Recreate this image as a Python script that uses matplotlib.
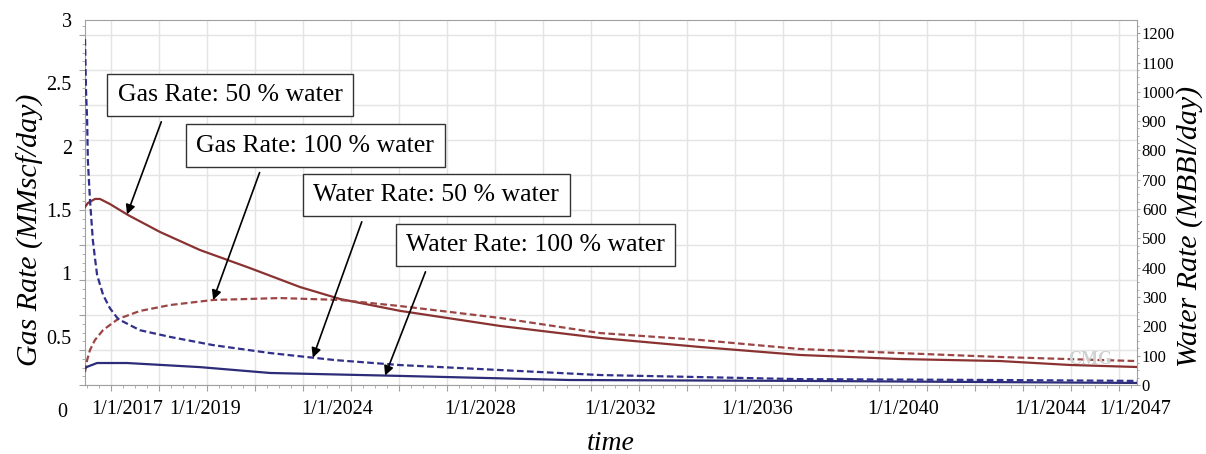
import numpy as np
import matplotlib.pyplot as plt
from matplotlib.ticker import MultipleLocator

plt.rcParams['font.family'] = ['Liberation Serif', 'DejaVu Serif']

# time axis: years from start of production
t_gas50 = [0, 0.08, 0.28, 0.42, 0.70, 1.21, 2.11, 3.23, 4.63, 6.04, 7.16, 8.85,
           11.66, 14.47, 17.28, 20.08, 22.89, 25.70, 27.67, 29.55]
gas50 = [1.524, 1.556, 1.588, 1.588, 1.548, 1.461, 1.327, 1.185, 1.043, 0.893, 0.799,
         0.705, 0.586, 0.491, 0.420, 0.357, 0.325, 0.309, 0.278, 0.262]

t_gas100 = [0, 0.06, 0.14, 0.28, 0.51, 0.93, 1.54, 2.39, 3.60, 5.48, 7.16, 8.85,
            11.66, 14.47, 17.28, 20.08, 22.89, 25.70, 28.51, 29.55]
gas100 = [0.223, 0.317, 0.396, 0.475, 0.554, 0.641, 0.704, 0.751, 0.791, 0.806, 0.791,
          0.743, 0.649, 0.530, 0.475, 0.404, 0.372, 0.341, 0.317, 0.309]

t_wat50 = [0, 0.08, 0.34, 1.18, 3.23, 5.20, 8.85, 13.62, 20.08, 29.55]
wat50 = [58, 63, 75, 75, 61, 41, 31, 17, 14, 7]

t_wat100 = [0, 0.03, 0.06, 0.08, 0.14, 0.22, 0.28, 0.34, 0.51, 0.70, 0.93, 1.54, 2.39,
            3.60, 5.20, 7.02, 8.85, 11.66, 14.47, 20.08, 25.70, 29.55]
wat100 = [1180, 1000, 903, 767, 631, 494, 433, 375, 307, 262, 225, 187, 164,
          136, 109, 85, 68, 51, 34, 20, 17, 14]

date_ticks = [1.18, 3.37, 7.08, 11.10, 15.03, 18.88, 22.98, 27.11, 29.49]
date_labels = ['1/1/2017', '1/1/2019', '1/1/2024', '1/1/2028', '1/1/2032',
               '1/1/2036', '1/1/2040', '1/1/2044', '1/1/2047']
gas_ticks = [0.5, 1, 1.5, 2, 2.5, 3]

red = '#8a3232'
red_d = '#9b4545'
blue = '#2c2c78'
blue_d = '#30308a'
frame = '#a0a0a0'

W, H = 1206, 454
fig = plt.figure(figsize=(W / 100, H / 100), dpi=100)
rect = [85 / W, 1 - 385 / H, 1052 / W, 365 / H]

# background grid + frame ticks
gax = fig.add_axes(rect)
gax.set_xlim(-26 / 48, 1026 / 48)
gax.set_ylim(0, 365 / 35)
gax.xaxis.set_major_locator(MultipleLocator(1))
gax.xaxis.set_minor_locator(MultipleLocator(0.25))
gax.yaxis.set_major_locator(MultipleLocator(1))
gax.yaxis.set_minor_locator(MultipleLocator(0.25))
gax.grid(True, which='major', color='#e4e4e4', lw=1)
gax.tick_params(which='both', direction='out', color=frame, labelbottom=False,
                labelleft=False)
gax.tick_params(which='major', length=4, width=0.8)
gax.tick_params(which='minor', length=2, width=0.6)
for s in gax.spines.values():
    s.set_color(frame)

ax = fig.add_axes(rect)
ax.patch.set_visible(False)
for s in ax.spines.values():
    s.set_visible(False)
ax.plot(t_gas50, gas50, color=red, lw=1.6)
ax.plot(t_gas100, gas100, color=red_d, lw=1.6, ls=(0, (3, 1.5)))
ax.set_xlim(0, 29.55)
ax.set_ylim(0.12, 3.0)
ax.set_yticks(gas_ticks)
ax.set_yticklabels(['0.5', '1', '1.5', '2', '2.5', '3'])
ax.set_xticks(date_ticks)
ax.set_xticklabels(date_labels)
ax.tick_params(axis='both', length=0, labelsize=14.5)
ax.tick_params(axis='y', pad=9.5)
ax.tick_params(axis='x', pad=11)
ax.annotate('0', xy=(0, 0), xycoords=('axes fraction', 'data'), xytext=(-13, -9),
            textcoords='offset points', ha='right', va='center', fontsize=14.5,
            annotation_clip=False)

ax2 = ax.twinx()
for s in ax2.spines.values():
    s.set_visible(False)
ax2.plot(t_wat50, wat50, color=blue, lw=1.6)
ax2.plot(t_wat100, wat100, color=blue_d, lw=1.6, ls=(0, (3, 1.5)))
ax2.set_ylim(0, 1245)
ax2.yaxis.set_major_locator(MultipleLocator(100))
ax2.yaxis.set_minor_locator(MultipleLocator(25))
ax2.tick_params(axis='y', which='major', length=2.5, color=frame, labelsize=12, pad=1)
ax2.tick_params(axis='y', which='minor', length=1.5, color=frame)

ax.text(0.955, 0.07, 'CMG', transform=ax.transAxes, fontsize=13, color='#d0d0d0',
        fontweight='bold', ha='center', va='center')

# callouts
box = dict(boxstyle='square,pad=0.4', fc='white', ec='#333333', lw=1)
arrow = dict(arrowstyle='-|>', color='black', lw=1.2, mutation_scale=14, shrinkB=0)
callouts = [
    ('Gas Rate: 50 % water', ax, t_gas50, gas50, 1.18, (0.138, 0.795), 0.22),
    ('Gas Rate: 100 % water', ax, t_gas100, gas100, 3.60, (0.219, 0.656), 0.29),
    ('Water Rate: 50 % water', ax2, t_wat100, wat100, 6.40, (0.334, 0.521), 0.22),
    ('Water Rate: 100 % water', ax2, t_wat50, wat50, 8.43, (0.428, 0.384), 0.10),
]
for text, a, tx, vy, tt, pos, rx in callouts:
    a.annotate(text, xy=(tt, np.interp(tt, tx, vy)), xycoords='data',
               xytext=pos, textcoords='axes fraction', ha='center', va='center',
               fontsize=18.5, bbox=box,
               arrowprops=dict(arrow, relpos=(rx, 0), shrinkA=4))

fig.text(30 / W, 1 - 230 / H, 'Gas Rate (MMscf/day)', rotation=90, style='italic',
         fontsize=21.5, ha='center', va='center')
fig.text(1190 / W, 1 - 226 / H, 'Water Rate (MBBl/day)', rotation=90, style='italic',
         fontsize=21.5, ha='center', va='center')
fig.text(611 / W, 1 - 443 / H, 'time', style='italic', fontsize=20,
         ha='center', va='center')

fig.savefig('out.png', dpi=100)
